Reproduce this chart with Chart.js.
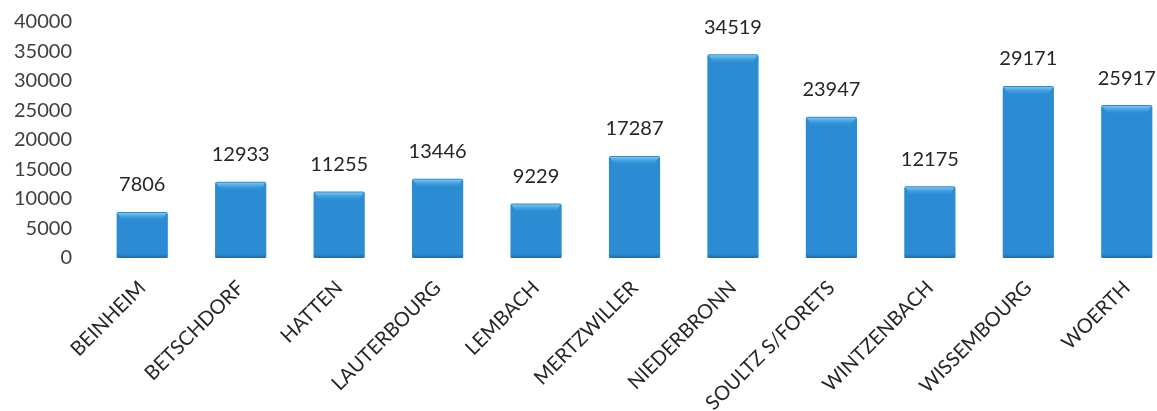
<!DOCTYPE html>
<html><head><meta charset="utf-8">
<script src="https://cdn.jsdelivr.net/npm/chart.js@4/dist/chart.umd.min.js"></script>
<style>
html,body{margin:0;padding:0;background:#fff;overflow:hidden;}
#wrap{position:absolute;left:0;top:0;width:1200px;height:411px;}
</style></head>
<body>
<div id="wrap"><canvas id="c" width="1200" height="411"></canvas></div>
<script>
const categories = ["BEINHEIM","BETSCHDORF","HATTEN","LAUTERBOURG","LEMBACH","MERTZWILLER","NIEDERBRONN","SOULTZ S/FORETS","WINTZENBACH","WISSEMBOURG","WOERTH"];
const values = [7806,12933,11255,13446,9229,17287,34519,23947,12175,29171,25917];
const yTicks = [0,5000,10000,15000,20000,25000,30000,35000,40000];

const FONT = "Lato, 'Open Sans', sans-serif";

function barFill(ctx){
  const el = ctx.element;
  const chart = ctx.chart;
  if(!el || el.x === undefined || !chart.chartArea) return '#2b8bd3';
  const w = el.width || 50;
  const g = chart.ctx.createLinearGradient(el.x - w/2, 0, el.x + w/2, 0);
  g.addColorStop(0, '#1b62a0');
  g.addColorStop(0.1, '#2a86cf');
  g.addColorStop(0.5, '#3598de');
  g.addColorStop(0.9, '#2a86cf');
  g.addColorStop(1, '#1b62a0');
  return g;
}

const bevelPlugin = {
  id:'bevel',
  afterDatasetsDraw(chart){
    const ctx = chart.ctx;
    const meta = chart.getDatasetMeta(0);
    ctx.save();
    meta.data.forEach(b=>{
      const l = b.x - b.width/2, r = b.x + b.width/2, t = b.y;
      const h = 9;
      const g = ctx.createLinearGradient(0, t, 0, t+h);
      g.addColorStop(0, 'rgba(150,215,250,0.95)');
      g.addColorStop(1, 'rgba(60,160,225,0.0)');
      ctx.fillStyle = g;
      ctx.beginPath();
      ctx.moveTo(l+1, t+1);
      ctx.lineTo(r-1, t+1);
      ctx.lineTo(r-6, t+h);
      ctx.lineTo(l+6, t+h);
      ctx.closePath();
      ctx.fill();
      const gb = ctx.createLinearGradient(0, b.base-4, 0, b.base);
      gb.addColorStop(0,'rgba(20,80,140,0)');
      gb.addColorStop(1,'rgba(20,80,140,0.6)');
      ctx.fillStyle = gb;
      ctx.fillRect(l, b.base-4, b.width, 4);
    });
    ctx.restore();
  }
};

const labelPlugin = {
  id:'vals',
  afterDatasetsDraw(chart){
    const ctx = chart.ctx;
    const meta = chart.getDatasetMeta(0);
    ctx.save();
    ctx.font = "20px " + FONT;
    ctx.fillStyle = '#262626';
    ctx.textAlign = 'center';
    ctx.textBaseline = 'bottom';
    meta.data.forEach((b,i)=>{
      ctx.fillText(String(chart.data.datasets[0].data[i]), b.x, b.y - 17);
    });
    ctx.restore();
  }
};

new Chart(document.getElementById('c'), {
  type:'bar',
  data:{
    labels: categories,
    datasets:[{
      data: values,
      backgroundColor: barFill,
      borderWidth: 0,
      borderRadius: 2,
      borderSkipped: false,
      barPercentage: 0.52,
      categoryPercentage: 1
    }]
  },
  options:{
    responsive:false,
    animation:false,
    devicePixelRatio:1,
    layout:{padding:{top:22,right:24,left:0,bottom:0}},
    plugins:{legend:{display:false},tooltip:{enabled:false}},
    scales:{
      x:{
        grid:{display:false,drawTicks:false},
        border:{display:false},
        ticks:{color:'#262626',font:{family:FONT,size:20},minRotation:45,maxRotation:45,padding:18,autoSkip:false},
        afterFit(s){ s.height = 411 - 258; s.paddingLeft = 0; s.paddingRight = 0; }
      },
      y:{
        min:0,max:40000,
        afterBuildTicks(s){ s.ticks = yTicks.map(v=>({value:v})); },
        grid:{display:false,drawTicks:false},
        border:{display:false},
        ticks:{color:'#404040',font:{family:FONT,size:20},padding:21,callback:v=>String(v)},
        afterFit(s){ s.width = 93; s.paddingTop = 0; s.paddingBottom = 0; }
      }
    }
  },
  plugins:[bevelPlugin,labelPlugin]
});
</script>
</body></html>
